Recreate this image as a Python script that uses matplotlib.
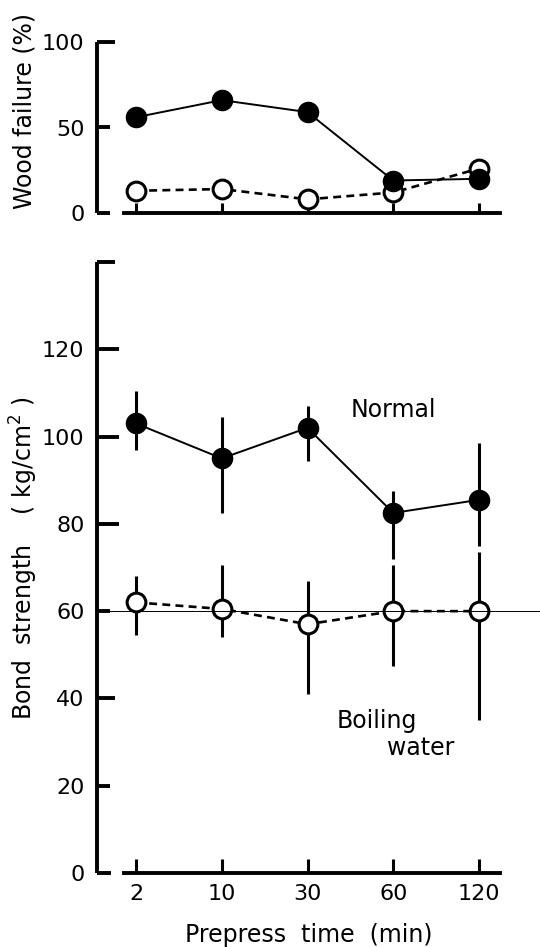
import numpy as np
import matplotlib
matplotlib.use("Agg")
import matplotlib.pyplot as plt

plt.rcParams['font.family'] = ['DejaVu Sans']

# prepress time categories (min)
times = ['2', '10', '30', '60', '120']

# wood failure (%)
wf_normal = [56, 66, 59, 19, 20]
wf_boil = [13, 14, 8, 12, 26]

# bond strength (kg/cm2), mean and error bar ends
bs_normal = [103, 95, 102, 82.5, 85.5]
bs_normal_lo = [97, 82.5, 94.5, 72, 75]
bs_normal_hi = [110.5, 104.5, 107, 87.5, 98.5]
bs_boil = [62, 60.5, 57, 60, 60]
bs_boil_lo = [54.5, 54, 41, 47.5, 35]
bs_boil_hi = [68, 70.5, 67, 70.5, 73.5]

FS = 17
TFS = 16
x = np.arange(len(times))

fig = plt.figure(figsize=(5.4, 9.47), dpi=100)
L, R = 97 / 540, 500 / 540
ax1 = fig.add_axes([L, 1 - 213 / 947, R - L, 171 / 947])
ax2 = fig.add_axes([L, 1 - 873 / 947, R - L, 611 / 947])

xlim = (-(136 - 97) / 85.75, 4 + 21 / 85.75)

for ax in (ax1, ax2):
    ax.set_xlim(*xlim)
    for s in ('top', 'right'):
        ax.spines[s].set_visible(False)
    ax.spines['left'].set_linewidth(2.8)
    ax.spines['bottom'].set_linewidth(2.8)
    ax.spines['bottom'].set_bounds(-0.14, xlim[1])
    ax.spines['left'].set_capstyle('butt')
    ax.set_xticks(x)
    ax.tick_params(axis='x', direction='in', width=2.2, length=7)
    ax.tick_params(axis='y', direction='in', width=2.8, length=12, pad=9,
                   labelsize=TFS)
    ax.patch.set_alpha(0)

# --- top panel: wood failure
ax1.set_ylim(0, 100)
ax1.spines['left'].set_bounds(0, 100)
ax1.set_yticks([0, 50, 100])
ax1.set_xticklabels([])
ax1.plot(x, wf_normal, '-', color='black', lw=1.4, marker='o', ms=14.5,
         mfc='black', mec='black', clip_on=False, zorder=3)
ax1.plot(x, wf_boil, color='black', lw=1.9, ls=(0, (3, 2)), marker='o', ms=13.5,
         mfc='white', mec='black', mew=2.2, clip_on=False, zorder=2)

# --- bottom panel: bond strength
ax2.set_ylim(0, 140)
ax2.spines['left'].set_bounds(0, 140)
ax2.set_yticks([0, 20, 40, 60, 80, 100, 120, 140])
ax2.set_yticklabels(['0', '20', '40', '60', '80', '100', '120', ''])
ax2.set_xticklabels(times, fontsize=TFS)
ax2.tick_params(axis='x', length=10, pad=8)

# hand-drawn tick lengths vary a little in the original
for t, ln in zip(ax1.yaxis.get_major_ticks(), [9, 9, 13]):
    t.tick1line.set_markersize(ln)
for t, ln in zip(ax2.yaxis.get_major_ticks(), [10, 9, 13, 9, 16, 16, 16, 13]):
    t.tick1line.set_markersize(ln)

ax2.vlines(x, bs_normal_lo, bs_normal_hi, color='black', lw=2.2, zorder=2)
ax2.vlines(x, bs_boil_lo, bs_boil_hi, color='black', lw=2.2, zorder=2)
ax2.plot(x, bs_normal, '-', color='black', lw=1.4, marker='o', ms=14.5,
         mfc='black', mec='black', clip_on=False, zorder=3)
ax2.plot(x, bs_boil, color='black', lw=1.9, ls=(0, (3, 2)), marker='o', ms=13.5,
         mfc='white', mec='black', mew=2.2, clip_on=False, zorder=3)
ax2.axhline(60, xmin=0, xmax=(540 - 97) / (500 - 97), color='black', lw=0.7,
            clip_on=False, zorder=4)

ax2.text(3.0, 106, 'Normal', fontsize=FS, ha='center', va='center')
ax2.text(2.34, 34.9, 'Boiling', fontsize=FS, ha='left', va='center')
ax2.text(2.93, 28.7, 'water', fontsize=FS, ha='left', va='center')

fig.text(25 / 540, 1 - 111 / 947, 'Wood failure (%)', rotation=90,
         fontsize=FS, ha='center', va='center')
fig.text(24 / 540, 1 - 558 / 947, 'Bond  strength    ( kg/cm$^2$ )', rotation=90,
         fontsize=FS, ha='center', va='center')
fig.text(309 / 540, 1 - 935 / 947, 'Prepress  time  (min)', fontsize=FS,
         ha='center', va='center')

fig.savefig('out.png', dpi=100)
